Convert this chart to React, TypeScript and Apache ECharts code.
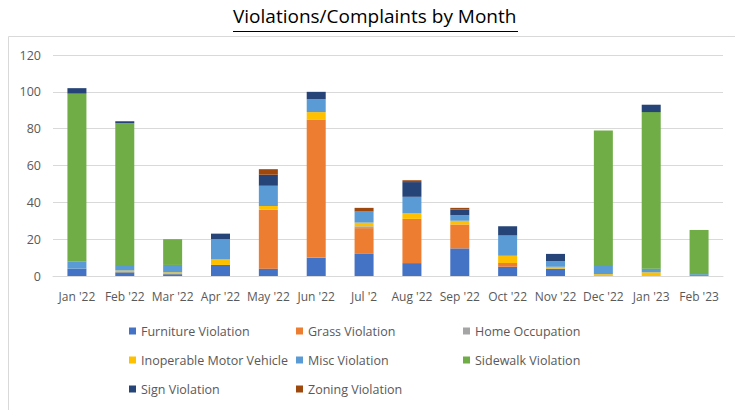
import React, { useEffect, useRef } from "react";
import * as echarts from "echarts";

const months = ["Jan '22", "Feb '22", "Mar '22", "Apr '22", "May '22", "Jun '22", "Jul '2", "Aug '22", "Sep '22", "Oct '22", "Nov '22", "Dec '22", "Jan '23", "Feb '23"];
const furniture = [4, 2, 1, 6, 4, 10, 12, 7, 15, 5, 4, 0, 0, 0];
const grass = [0, 0, 0, 0, 32, 75, 14, 24, 13, 2, 0, 0, 0, 0];
const homeOccupation = [0, 0, 0, 0, 0, 0, 1, 0, 0, 0, 0, 0, 0, 0];
const inoperable = [0, 1, 1, 3, 2, 4, 2, 3, 2, 4, 1, 1, 2, 0];
const misc = [4, 3, 4, 11, 11, 7, 6, 9, 3, 11, 3, 5, 2, 1];
const sidewalk = [91, 77, 14, 0, 0, 0, 0, 0, 0, 0, 0, 73, 85, 24];
const sign = [3, 1, 0, 3, 6, 4, 0, 8, 3, 5, 4, 0, 4, 0];
const zoning = [0, 0, 0, 0, 3, 0, 2, 1, 1, 0, 0, 0, 0, 0];
const yTicks = { min: 0, max: 120, interval: 20 };

const seriesDefs = [
  { name: "Furniture Violation", data: furniture, color: "#4472C4" },
  { name: "Grass Violation", data: grass, color: "#ED7D31" },
  { name: "Home Occupation", data: homeOccupation, color: "#A5A5A5" },
  { name: "Inoperable Motor Vehicle", data: inoperable, color: "#FFC000" },
  { name: "Misc Violation", data: misc, color: "#5B9BD5" },
  { name: "Sidewalk Violation", data: sidewalk, color: "#70AD47" },
  { name: "Sign Violation", data: sign, color: "#264478" },
  { name: "Zoning Violation", data: zoning, color: "#9E480E" },
];

const FONT = "'Open Sans', 'Noto Sans', sans-serif";
const TXT = "#595959";

export default function App() {
  const ref = useRef<HTMLDivElement>(null);
  useEffect(() => {
    if (!ref.current) return;
    const chart = echarts.init(ref.current, undefined, { renderer: "svg" });
    const legendBase = {
      orient: "vertical",
      top: 324,
      padding: 0,
      itemWidth: 7,
      itemHeight: 7,
      itemGap: 15,
      icon: "rect",
      textStyle: { color: TXT, fontFamily: FONT, fontSize: 12.5, lineHeight: 14, padding: [0, 0, 0, 0] },
    };
    chart.setOption({
      animation: false,
      backgroundColor: "#fff",
      title: {
        text: "Violations/Complaints by Month",
        left: 233,
        top: 6,
        padding: 0,
        textStyle: { fontFamily: FONT, fontSize: 19, fontWeight: "normal", color: "#000" },
      },
      graphic: [
        { type: "line", shape: { x1: 233, y1: 31.5, x2: 518, y2: 31.5 }, style: { stroke: "#000", lineWidth: 1 } },
        { type: "rect", shape: { x: 8.5, y: 36.5, width: 740, height: 400 }, style: { fill: "none", stroke: "#d9d9d9", lineWidth: 1 }, silent: true },
      ],
      legend: [
        { ...legendBase, left: 129, data: ["Furniture Violation", "Inoperable Motor Vehicle", "Sign Violation"] },
        { ...legendBase, left: 296, data: ["Grass Violation", "Misc Violation", "Zoning Violation"] },
        { ...legendBase, left: 463, data: ["Home Occupation", "Sidewalk Violation"] },
      ],
      grid: { left: 53, right: 12, top: 55, bottom: 134, containLabel: false },
      xAxis: {
        type: "category",
        data: months,
        axisLine: { lineStyle: { color: "#d9d9d9" } },
        axisTick: { show: false },
        axisLabel: { interval: 0, color: TXT, fontFamily: FONT, fontSize: 12, margin: 14 },
      },
      yAxis: {
        type: "value",
        ...yTicks,
        axisLine: { show: false },
        axisTick: { show: false },
        splitLine: { lineStyle: { color: "#d9d9d9" } },
        axisLabel: { color: TXT, fontFamily: FONT, fontSize: 12.5, margin: 12 },
      },
      series: seriesDefs.map((s) => ({
        name: s.name,
        type: "bar",
        stack: "total",
        data: s.data,
        barWidth: 19,
        itemStyle: { color: s.color },
      })),
    });
    return () => chart.dispose();
  }, []);
  return <div ref={ref} style={{ width: 735, height: 410, position: "absolute", left: 0, top: 0 }} />;
}
